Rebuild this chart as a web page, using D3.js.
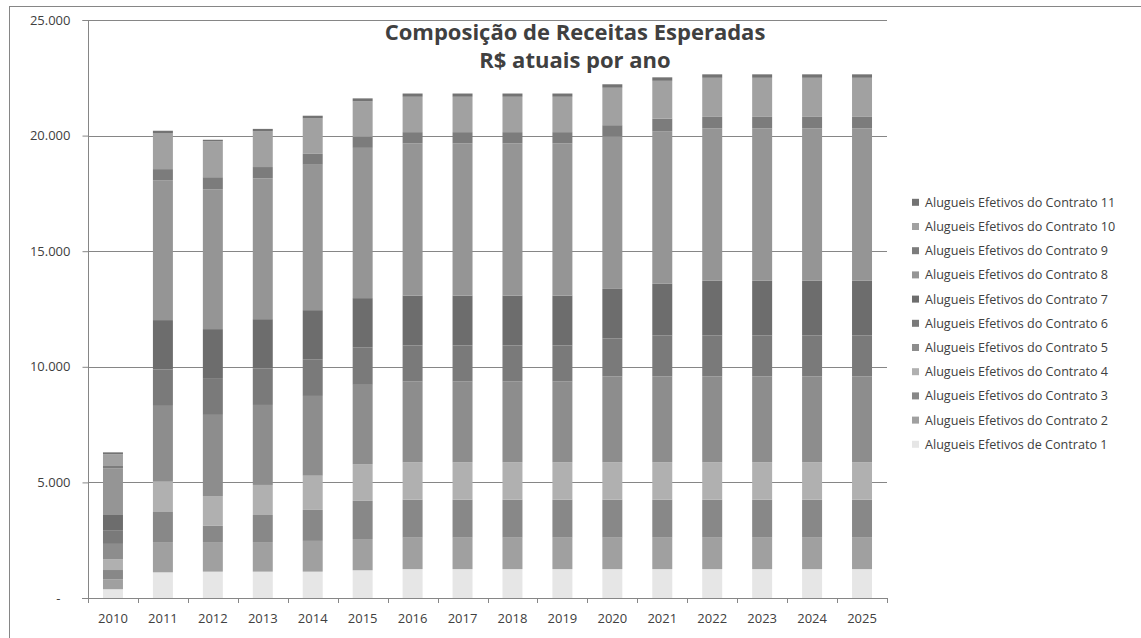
<!DOCTYPE html>
<html><head><meta charset="utf-8">
<script src="https://cdn.jsdelivr.net/npm/d3@7"></script>
<style>body{margin:0;background:#fff;} text{font-family:"Open Sans",sans-serif;}</style>
</head><body>
<svg id="c" width="1141" height="638"></svg>
<script>
const years = ["2010","2011","2012","2013","2014","2015","2016","2017","2018","2019","2020","2021","2022","2023","2024","2025"];
const seriesNames = ["Alugueis Efetivos de Contrato 1","Alugueis Efetivos do Contrato 2","Alugueis Efetivos do Contrato 3","Alugueis Efetivos do Contrato 4","Alugueis Efetivos do Contrato 5","Alugueis Efetivos do Contrato 6","Alugueis Efetivos do Contrato 7","Alugueis Efetivos do Contrato 8","Alugueis Efetivos do Contrato 9","Alugueis Efetivos do Contrato 10","Alugueis Efetivos do Contrato 11"];
const c1  = [380,1110,1140,1140,1140,1200,1250,1250,1250,1250,1250,1250,1250,1250,1250,1250];
const c2  = [430,1310,1280,1280,1330,1350,1360,1360,1360,1360,1360,1360,1360,1360,1360,1360];
const c3  = [400,1300,700,1170,1340,1650,1640,1640,1640,1640,1640,1640,1640,1640,1640,1640];
const c4  = [460,1310,1290,1300,1480,1590,1620,1620,1620,1620,1620,1620,1620,1620,1620,1620];
const c5  = [670,3280,3510,3460,3450,3430,3490,3490,3490,3490,3710,3710,3710,3710,3710,3710];
const c6  = [570,1570,1560,1570,1570,1610,1560,1560,1560,1560,1640,1770,1770,1770,1770,1770];
const c7  = [680,2140,2150,2140,2140,2140,2160,2160,2160,2160,2150,2240,2370,2370,2370,2370];
const c8  = [2010,6050,6050,6090,6290,6500,6580,6580,6580,6580,6600,6600,6590,6590,6590,6590];
const c9  = [110,480,520,490,470,480,490,490,490,490,480,540,500,500,500,500];
const c10 = [510,1540,1550,1540,1530,1530,1530,1530,1530,1530,1620,1640,1690,1690,1690,1690];
const c11 = [80,120,70,110,120,130,140,140,140,140,150,150,150,150,150,150];
const yTicks = [0,5000,10000,15000,20000,25000];
const seriesValues = [c1,c2,c3,c4,c5,c6,c7,c8,c9,c10,c11];
const colors = ["#e6e6e6","#a0a0a0","#888888","#b0b0b0","#8d8d8d","#7a7a7a","#6d6d6d","#959595","#7c7c7c","#a1a1a1","#737373"];

const svg = d3.select("#c");
const L = 88, R = 887, T = 20, B = 598;
const x = d3.scaleBand().domain(years).range([L, R]).paddingInner(0.6).paddingOuter(0.3);
const y = d3.scaleLinear().domain([0, 25000]).range([B, T]);

// outer border
svg.append("line").attr("x1",9).attr("x2",1141).attr("y1",6.5).attr("y2",6.5).attr("stroke","#868686").attr("stroke-width",1);
svg.append("line").attr("x1",9.5).attr("x2",9.5).attr("y1",6).attr("y2",638).attr("stroke","#868686").attr("stroke-width",1);

// gridlines
svg.append("g").selectAll("line").data(yTicks.filter(d=>d>0)).join("line")
  .attr("x1",L).attr("x2",R).attr("y1",d=>Math.round(y(d))+0.5).attr("y2",d=>Math.round(y(d))+0.5)
  .attr("stroke","#868686");

// stacked data
const table = years.map((yr,i)=>{ const o={year:yr}; seriesNames.forEach((s,k)=>o[s]=seriesValues[k][i]); return o; });
const stack = d3.stack().keys(seriesNames)(table);

svg.append("g").selectAll("g").data(stack).join("g").attr("fill",(d,i)=>colors[i])
  .selectAll("rect").data(d=>d).join("rect")
  .attr("x",d=>x(d.data.year)).attr("width",x.bandwidth())
  .attr("y",d=>y(d[1])).attr("height",d=>y(d[0])-y(d[1]));

// y axis
const yAxis = svg.append("g").attr("transform",`translate(${L+0.5},0)`)
  .call(d3.axisLeft(y).tickValues(yTicks).tickSize(6).tickPadding(12)
    .tickFormat(d=> d===0 ? "-" : d3.format(",")(d).replace(/,/g,".")));
yAxis.select(".domain").attr("stroke","#868686").attr("d",`M-6,${T+0.5}H0V${B}`);
yAxis.selectAll(".tick line").attr("stroke","#868686");
yAxis.selectAll(".tick text").attr("fill","#404040").attr("font-size","13px").attr("dx", d=> d===0 ? "-10" : "0");

// x axis
const step = x.step();
const xg = svg.append("g");
xg.append("line").attr("x1",L-6).attr("x2",R).attr("y1",B+0.5).attr("y2",B+0.5).attr("stroke","#868686");
const bounds = d3.range(years.length+1).map(i=>L + i*step);
xg.selectAll("line.t").data(bounds).join("line").attr("class","t")
  .attr("x1",d=>Math.round(d)+0.5).attr("x2",d=>Math.round(d)+0.5).attr("y1",B).attr("y2",B+5).attr("stroke","#868686");
const xAxis = svg.append("g").attr("transform",`translate(0,${B})`)
  .call(d3.axisBottom(x).tickSize(0).tickPadding(16));
xAxis.select(".domain").remove();
xAxis.selectAll(".tick text").attr("fill","#404040").attr("font-size","13px");

// title
svg.append("text").attr("x",575).attr("y",40).attr("text-anchor","middle")
  .attr("font-size","22px").attr("font-weight","bold").attr("fill","#404040").text("Composição de Receitas Esperadas");
svg.append("text").attr("x",575).attr("y",68).attr("text-anchor","middle")
  .attr("font-size","22px").attr("font-weight","bold").attr("fill","#404040").text("R$ atuais por ano");

// legend (reversed order)
const leg = svg.append("g");
const legItems = seriesNames.map((s,i)=>({s,c:colors[i]})).reverse();
const lg = leg.selectAll("g").data(legItems).join("g").attr("transform",(d,i)=>`translate(912,${202.3 + i*24.2})`);
lg.append("rect").attr("x",0).attr("y",-3.5).attr("width",7).attr("height",7).attr("fill",d=>d.c);
lg.append("text").attr("x",13).attr("y",4.5).attr("font-size","12.6px").attr("fill","#404040").text(d=>d.s);
</script>
</body></html>
